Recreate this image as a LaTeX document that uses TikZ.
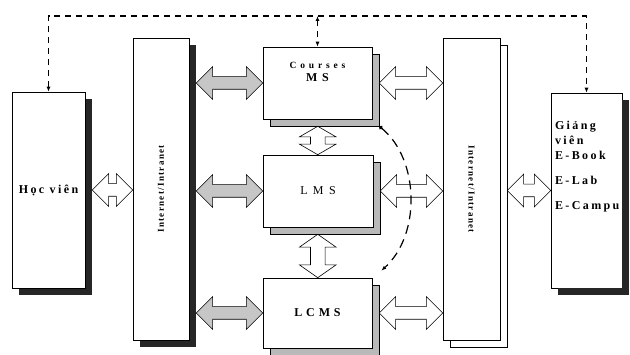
\documentclass[tikz,border=0pt]{standalone}
\usepackage{fontspec}
\setmainfont{Liberation Serif}
\usetikzlibrary{arrows.meta,calc,shapes.arrows,shadows}

\newcommand\wideb[1]{\bfseries\fontsize{#1}{15}\selectfont\addfontfeatures{LetterSpace=20}}

\begin{document}
\begin{tikzpicture}[x=1pt,y=-1pt,>={Latex[length=5pt,width=4pt]},
  box/.style={draw,semithick,fill=white,inner sep=0pt},
  darkshadow/.style={drop shadow={shadow xshift=7pt,shadow yshift=-7pt,fill=black!85,opacity=1}},
  lightshadow/.style={drop shadow={shadow xshift=7pt,shadow yshift=-7pt,fill=white,draw=black,opacity=1}},
  midshadow/.style={drop shadow={shadow xshift=7pt,shadow yshift=-7pt,fill=gray!55,draw=black,opacity=1}},
  harrow/.style={double arrow,draw,semithick,inner xsep=0pt,inner ysep=6pt,double arrow head extend=10pt},
  dashline/.style={line width=1.3pt,dash pattern=on 6pt off 5pt}]
  \useasboundingbox (0,0) rectangle (630,355);
  % boxes
  \node[box,darkshadow,minimum width=73pt,minimum height=196pt,font=\wideb{12}] (hv) at (48.5,190) {Học viên};
  \node[box,darkshadow,minimum width=56pt,minimum height=302pt] (inetL) at (161,189) {};
  \node[box,midshadow,minimum width=109pt,minimum height=72pt] (cms) at (317.5,83)
    {\parbox[c][66pt][t]{100pt}{\centering\vspace*{12pt}{\bfseries\fontsize{9.5}{11}\selectfont\addfontfeatures{LetterSpace=40}Courses}\\[1pt]{\wideb{12}\addfontfeatures{LetterSpace=40}MS}}};
  \node[box,midshadow,minimum width=110pt,minimum height=72pt,font=\fontsize{12}{14}\selectfont\addfontfeatures{LetterSpace=45}] (lms) at (318,191) {LMS};
  \node[box,midshadow,minimum width=109pt,minimum height=70pt,font=\wideb{12}\addfontfeatures{LetterSpace=32}] (lcms) at (317.5,313) {LCMS};
  \node[box,lightshadow,minimum width=57pt,minimum height=302pt] (inetR) at (471.5,189) {};
  \node[box,minimum width=71pt,minimum height=195pt] (gv) at (586.5,190.5)
    {\parbox[c][187pt][t]{63pt}{\raggedright\wideb{12}\vspace*{24pt}Giảng\\viên\\E-Book\\[10pt]E-Lab\\[10pt]\mbox{E-Campus}}};
  \fill[black!85] ($(gv.north east)+(0,7)$) rectangle ($(gv.south east)+(7,7)$);
  \fill[black!85] ($(gv.south west)+(7,0)$) rectangle ($(gv.south east)+(7,7)$);
  \node[rotate=90,font=\bfseries\fontsize{9}{10}\selectfont\addfontfeatures{LetterSpace=15}] (netL) at (inetL) {Internet/Intranet};
  \node[rotate=-90,font=\bfseries\fontsize{9}{10}\selectfont\addfontfeatures{LetterSpace=15}] (netR) at (inetR) {Internet/Intranet};
  % block arrows
  \foreach \a/\b/\r/\fc in {hv/inetL/hv/white, inetL/cms/cms/gray!45, inetL/lms/lms/gray!45, inetL/lcms/lcms/gray!45,
      cms/inetR/cms/white, lms/inetR/lms/white, lcms/inetR/lcms/white, inetR/gv/gv/white}
    \path let \p1=(\a.east |- \r.center), \p2=(\b.west |- \r.center) in
      node[harrow,fill=\fc,minimum height=\x2-\x1-7pt] (\a-\b) at ($(\p1)!0.5!(\p2)+(3.5,0)$) {};
  \foreach \a/\b/\ang in {cms/lms/120, lms/lcms/110}
    \path let \p1=(\a.south), \p2=(\b.north) in
      node[harrow,rotate=90,double arrow tip angle=\ang,inner ysep=7pt,double arrow head extend=11pt,
        minimum height=\y1-\y2-7pt] (\a-\b) at ($(\p1)!0.5!(\p2)+(0,3.5)$) {};
  % dashed links
  \coordinate (top) at (0,16);
  \draw[dashline,<->] (hv.north) -- (hv.north |- top) -- (gv.north |- top) -- (gv.north);
  \draw[dashline,<->] (cms.north |- top) -- (cms.north);
  \coordinate (c1) at ($(cms.south east)+(7,7)$);
  \coordinate (c2) at ($(lcms.north east)+(9,-7)$);
  \draw[very thick,dash pattern=on 9pt off 6pt,{Circle[length=4pt]}-{Latex[length=5pt]}]
    (c1) .. controls +(40,33) and +(40,-36) .. (c2);
\end{tikzpicture}
\end{document}
